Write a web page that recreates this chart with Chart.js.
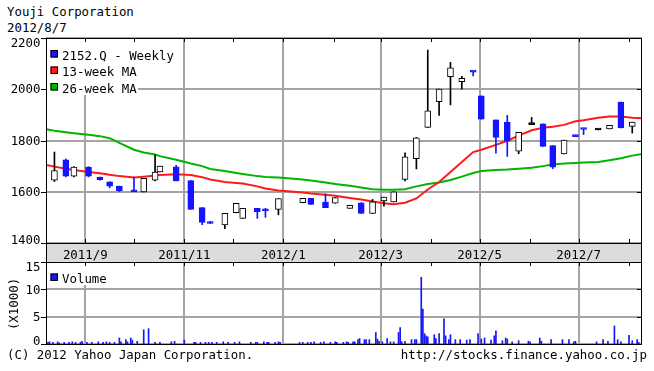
<!DOCTYPE html>
<html>
<head>
<meta charset="utf-8">
<script src="https://cdn.jsdelivr.net/npm/chart.js@4.4.0/dist/chart.umd.min.js"></script>
<style>
  body { margin: 0; background: #fff; width: 654px; height: 371px; overflow: hidden; position: relative;
         font-family: 'DejaVu Sans Mono', monospace; font-size: 12.4px; color: #000; }
  .txt { position: absolute; white-space: pre; line-height: 1; }
  #priceBox { position: absolute; left: 0; top: 0; width: 654px; height: 262px; }
  #volBox { position: absolute; left: 0; top: 262px; width: 654px; height: 109px; }
</style>
</head>
<body>
<div class="txt" style="left:7px;top:6px">Youji Corporation</div>
<div class="txt" style="left:7px;top:22px">2012/8/7</div>
<div id="priceBox"><canvas id="priceChart"></canvas></div>
<div id="volBox"><canvas id="volumeChart"></canvas></div>
<div class="txt" style="left:7px;top:349px">(C) 2012 Yahoo Japan Corporation.</div>
<div class="txt" style="right:7px;top:349px">http://stocks.finance.yahoo.co.jp</div>
<script>
// --- data (weekly candles, 2152.Q) ---
const candleDates = ['2011-08-13','2011-08-20','2011-08-25','2011-09-03','2011-09-10','2011-09-16','2011-09-22',
  '2011-10-01','2011-10-07','2011-10-14','2011-10-17','2011-10-27','2011-11-05','2011-11-12','2011-11-17',
  '2011-11-26','2011-12-03','2011-12-07','2011-12-16','2011-12-21','2011-12-29','2012-01-13','2012-01-18',
  '2012-01-27','2012-02-02','2012-02-11','2012-02-18','2012-02-25','2012-03-03','2012-03-09','2012-03-16',
  '2012-03-23','2012-03-30','2012-04-06','2012-04-13','2012-04-20','2012-04-27','2012-05-02','2012-05-11',
  '2012-05-18','2012-05-25','2012-06-02','2012-06-09','2012-06-15','2012-06-22','2012-06-29','2012-07-04',
  '2012-07-13','2012-07-20','2012-07-27','2012-08-03'];
const opens  = [1645,1725,1661,1696,1657,1639,1622,1606,1599,1645,1677,1697,1644,1538,1484,1471,1518,1496,1535,1528,
  1531,1557,1574,1560,1555,1535,1557,1515,1564,1560,1648,1729,1851,1952,2049,2030,2070,1974,1881,1872,1758,1862,
  1865,1780,1748,1817,1845,1841,1845,1950,1855];
const closes = [1683,1661,1696,1661,1647,1622,1603,1600,1652,1677,1700,1642,1531,1480,1476,1516,1555,1535,1522,1526,
  1573,1574,1551,1538,1577,1547,1515,1561,1579,1600,1736,1810,1916,2001,2084,2043,2067,1883,1812,1797,1832,1862,
  1777,1696,1802,1815,1843,1841,1859,1849,1872];
const highs  = [1755,1728,1698,1698,1657,1639,1622,1657,1652,1743,1700,1703,1644,1538,1484,1516,1555,1535,1535,1535,
  1573,1574,1574,1592,1577,1547,1557,1570,1579,1600,1752,1812,2153,2001,2105,2050,2070,1974,1881,1898,1832,1890,
  1865,1780,1802,1817,1845,1841,1859,1950,1872];
const lows   = [1640,1658,1658,1658,1645,1615,1601,1600,1599,1642,1677,1642,1531,1472,1476,1456,1518,1496,1496,1500,
  1510,1557,1551,1538,1555,1535,1515,1515,1544,1560,1642,1689,1851,1898,1939,2000,2052,1883,1751,1738,1748,1862,
  1777,1690,1748,1815,1823,1841,1845,1849,1829];

// moving averages
const maDates = ['2011-08-08'].concat(candleDates, ['2012-08-09']);
const ma13 = [1704,1698,1690,1685,1677,1672,1666,1661,1656,1659,1663,1665,1668,1665,1657,1648,1638,1634,1632,1621,
  1613,1605,1597,1593,1588,1584,1576,1570,1562,1555,1551,1557,1574,1609,1638,1677,1716,1755,1764,1783,1799,1819,
  1840,1850,1854,1861,1875,1879,1889,1894,1894,1889,1887];
const ma26 = [1844,1838,1832,1828,1822,1817,1809,1791,1764,1753,1745,1739,1725,1710,1700,1689,1681,1673,1669,1661,
  1658,1656,1648,1644,1636,1630,1623,1617,1610,1608,1608,1610,1621,1630,1636,1646,1659,1673,1681,1685,1687,1690,
  1694,1700,1706,1710,1712,1714,1716,1723,1731,1741,1747];

// daily volume (x1000), one row per week Mon..Fri
const volumeStart = '2011-08-08';
const volume = [
  [0,0.3,0.4,0,0.3],[0.4,0.2,0,0,0.3],[0.3,0,0.4,0,0.3],[0.3,0.5,0,0,0.3],[0.3,0,0,0,0.4],
  [0.3,0,0.4,0,0.3],[0.3,0,0,1.1,0.4],[0.8,0.4,0,1.1,0.7],[0.5,0,0,0,2.6],[2.8,0,0,0,0.3],
  [0.3,0,0,0,0],[0.4,0,0.5,0,0],[0,0.7,0,0,0],[0.3,0.3,0,0,0.3],[0.3,0,0.3,0,0.3],
  [0.3,0,0,0,0.4],[0.3,0,0,0,0.3],[0.4,0,0,0,0],[0.3,0,0,0.3,0.3],[0,0.4,0,0.3,0.3],
  [0,0.3,0,0.4,0.3],[0,0,0,0,0],[0,0,0.3,0,0.3],[0.3,0,0.3,0,0.4],[0,0.3,0,0.4,0],
  [0.3,0,0,0.4,0.3],[0,0.3,0,0.4,0.3],[0.4,0.4,0,0.8,1.0],[0.8,0.8,0,0.8,0],[2.1,0.9,0.5,0,0.4],
  [1.0,0,0.4,0,0.4],[2.1,3.0,0.4,0,0.5],[0,0.8,0,0.8,0.8],[12.2,6.4,1.9,1.5,1.3],[0,1.7,1.0,0,1.9],
  [4.6,1.5,0,0.8,1.7],[0.8,0,0,0.8,0],[0.7,0,0.8,0,0],[1.9,0,0.9,0,1.1],[0,0.7,0,1.5,2.4],
  [0,0.6,0,1.1,0.9],[0.4,0,0,0,0.6],[0,0,0,0.5,0.4],[0,0,0,1.1,0.5],[0,0,0,0.8,0],
  [0,0,0,0.8,0],[0.8,0,0,0.4,0.5],[0,0,0,0,0],[0,0,0,0.4,0],[0.8,0,0,0.5,0],
  [3.3,0,0.8,0,0.4],[0,0,1.6,0,0.6],[0.8,0.3]
];

// axes
const monthTicks = ['2011-09-01','2011-10-01','2011-11-01','2011-12-01','2012-01-01','2012-02-01',
  '2012-03-01','2012-04-01','2012-05-01','2012-06-01','2012-07-01','2012-08-01'];
const monthLabels = ['2011/9','','2011/11','','2012/1','','2012/3','','2012/5','','2012/7',''];
const priceTicks = [1400, 1600, 1800, 2000, 2200];
const volumeTicks = [0, 5, 10, 15];

const BLUE = '#1414ff';
const RED = '#ff1a1a';
const GREEN = '#00b400';
const GRID = '#a4a4a4';
const FONT = '12.4px "DejaVu Sans Mono", monospace';

const dayNum = s => { const [y, m, d] = s.split('-').map(Number); return Date.UTC(y, m - 1, d) / 864e5; };
const xMin = dayNum('2011-08-08') - 0.2;
const xMax = dayNum('2012-08-09');
const monthValues = monthTicks.map(dayNum);

const fills = opens.map((o, i) => closes[i] > o ? '#ffffff' : closes[i] < o ? BLUE : '#000000');
const strokes = opens.map((o, i) => closes[i] > o ? '#000000' : closes[i] < o ? BLUE : '#000000');

const volumePoints = [];
volume.forEach((week, w) => week.forEach((v, d) => {
  if (v > 0) volumePoints.push({ x: dayNum(volumeStart) + w * 7 + d, y: v });
}));

const clamp = (v, lo, hi) => Math.max(lo, Math.min(hi, v));

// gray grid at the labelled months and at the value ticks, drawn by hand so it sits on whole pixels
const drawGrid = (chart, yTicks) => {
  const { ctx, chartArea: a, scales: { x, y } } = chart;
  ctx.save();
  ctx.strokeStyle = GRID;
  ctx.lineWidth = 2;
  ctx.beginPath();
  monthValues.forEach((m, i) => {
    if (!monthLabels[i]) return;
    const px = Math.round(x.getPixelForValue(m));
    ctx.moveTo(px, a.top); ctx.lineTo(px, a.bottom);
  });
  yTicks.forEach(v => {
    const py = Math.round(y.getPixelForValue(v));
    ctx.moveTo(a.left, py); ctx.lineTo(a.right, py);
  });
  ctx.stroke();
  ctx.restore();
};

const drawTicksAndFrame = (chart, yTicks, monthTop, monthBottom) => {
  const { ctx, chartArea: a, scales: { x, y } } = chart;
  ctx.strokeStyle = '#000';
  ctx.lineWidth = 1;
  ctx.beginPath();
  monthValues.forEach(m => {
    const px = Math.round(x.getPixelForValue(m)) + 0.5;
    if (monthTop) { ctx.moveTo(px, a.top); ctx.lineTo(px, a.top + 4); }
    if (monthBottom) { ctx.moveTo(px, a.bottom - 4); ctx.lineTo(px, a.bottom); }
  });
  yTicks.forEach(v => {
    const py = Math.round(y.getPixelForValue(v)) + 0.5;
    ctx.moveTo(a.left - 5, py); ctx.lineTo(a.left, py);
    ctx.moveTo(a.right - 5, py); ctx.lineTo(a.right, py);
  });
  ctx.stroke();
  ctx.strokeRect(a.left + 0.5, a.top + 0.5, a.right - a.left - 1, a.bottom - a.top);

  ctx.fillStyle = '#000';
  ctx.font = FONT;
  ctx.textAlign = 'right';
  ctx.textBaseline = 'middle';
  yTicks.forEach(v => {
    const py = clamp(y.getPixelForValue(v) + 1, a.top + 6, a.bottom - 2.5);
    ctx.fillText(String(v), 40.5, py);
  });
};

const legendBox = (ctx, x0, y0, color) => {
  ctx.fillStyle = color;
  ctx.fillRect(x0, y0, 7.5, 7.5);
  ctx.strokeStyle = '#000';
  ctx.lineWidth = 1;
  ctx.strokeRect(x0 + 0.5, y0 + 0.5, 6.5, 6.5);
};

const priceFrame = {
  id: 'priceFrame',
  beforeDatasetsDraw(chart) { drawGrid(chart, priceTicks); },
  afterDraw(chart) {
    const { ctx, chartArea: a, scales: { x } } = chart;
    ctx.save();
    // date band under the price panel
    ctx.fillStyle = '#dcdcdc';
    ctx.fillRect(a.left, a.bottom, a.right - a.left, 19);
    ctx.strokeStyle = '#000';
    ctx.strokeRect(a.left + 0.5, a.bottom + 0.5, a.right - a.left - 1, 19);
    ctx.fillStyle = '#000';
    ctx.font = FONT;
    ctx.textAlign = 'center';
    ctx.textBaseline = 'alphabetic';
    monthValues.forEach((m, i) => {
      if (monthLabels[i]) ctx.fillText(monthLabels[i], x.getPixelForValue(m), a.bottom + 15.8);
    });

    // legend
    ctx.fillStyle = '#fff';
    ctx.fillRect(a.left + 1, a.top + 1, 91, 56);
    drawTicksAndFrame(chart, priceTicks, true, true);
    const names = ['2152.Q - Weekly', '13-week MA', '26-week MA'];
    const colors = [BLUE, RED, GREEN];
    names.forEach((n, i) => {
      legendBox(ctx, 50.5, a.top + 12 + i * 16.5, colors[i]);
      ctx.fillStyle = '#000';
      ctx.textAlign = 'left';
      ctx.textBaseline = 'alphabetic';
      ctx.fillText(n, 62, a.top + 21.5 + i * 16.5);
    });
    ctx.restore();
  }
};

const volumeFrame = {
  id: 'volumeFrame',
  beforeDatasetsDraw(chart) { drawGrid(chart, volumeTicks); },
  afterDraw(chart) {
    const { ctx, chartArea: a } = chart;
    ctx.save();
    ctx.fillStyle = '#fff';
    ctx.fillRect(a.left + 1, a.top + 1, 62, 22);
    drawTicksAndFrame(chart, volumeTicks, true, false);
    legendBox(ctx, 50.5, a.top + 11.5, BLUE);
    ctx.fillStyle = '#000';
    ctx.textAlign = 'left';
    ctx.textBaseline = 'alphabetic';
    ctx.fillText('Volume', 62, a.top + 21);
    ctx.translate(15, a.top + 42);
    ctx.rotate(-Math.PI / 2);
    ctx.textAlign = 'center';
    ctx.textBaseline = 'middle';
    ctx.fillText('(X1000)', 0, 0);
    ctx.restore();
  }
};

const xScale = extra => Object.assign({
  type: 'linear', min: xMin, max: xMax, offset: false,
  afterBuildTicks: s => { s.ticks = monthValues.map(v => ({ value: v })); },
  ticks: { display: false },
  grid: { display: false },
  border: { display: false }
}, extra);

const yScale = (min, max, ticks) => ({
  min, max,
  afterFit: s => { s.width = 46; },
  afterBuildTicks: s => { s.ticks = ticks.map(v => ({ value: v })); },
  ticks: { display: false },
  grid: { display: false },
  border: { display: false }
});

new Chart(document.getElementById('priceChart'), {
  type: 'bar',
  data: {
    datasets: [
      {
        type: 'line', label: '13-week MA', order: 5,
        data: maDates.map((d, i) => ({ x: dayNum(d), y: ma13[i] })),
        borderColor: RED, borderWidth: 2, pointRadius: 0, tension: 0
      },
      {
        type: 'line', label: '26-week MA', order: 6,
        data: maDates.map((d, i) => ({ x: dayNum(d), y: ma26[i] })),
        borderColor: GREEN, borderWidth: 2, pointRadius: 0, tension: 0
      },
      {
        label: 'wick', order: 3, grouped: false,
        data: candleDates.map((d, i) => ({ x: dayNum(d), y: [lows[i], highs[i]] })),
        backgroundColor: strokes, borderWidth: 0, barThickness: 1, minBarLength: 1
      },
      {
        label: '2152.Q - Weekly', order: 2, grouped: false,
        data: candleDates.map((d, i) => ({ x: dayNum(d), y: [opens[i], closes[i]] })),
        backgroundColor: fills, borderColor: strokes, borderWidth: 1, borderSkipped: false,
        barThickness: 6, minBarLength: 2
      }
    ]
  },
  options: {
    responsive: true,
    maintainAspectRatio: false,
    animation: false,
    layout: { padding: { left: 0, right: 12, top: 38, bottom: 0 } },
    plugins: { legend: { display: false }, tooltip: { enabled: false } },
    scales: {
      x: xScale({ afterFit: s => { s.height = 19; } }),
      y: yScale(1400, 2200, priceTicks)
    }
  },
  plugins: [priceFrame]
});

new Chart(document.getElementById('volumeChart'), {
  type: 'bar',
  data: {
    datasets: [{
      label: 'Volume', grouped: false,
      data: volumePoints,
      backgroundColor: BLUE, borderWidth: 0, barThickness: 1
    }]
  },
  options: {
    responsive: true,
    maintainAspectRatio: false,
    animation: false,
    layout: { padding: { left: 0, right: 12, top: 0, bottom: 27 } },
    plugins: { legend: { display: false }, tooltip: { enabled: false } },
    scales: {
      x: xScale({ afterFit: s => { s.height = 0; } }),
      y: yScale(0, 15, volumeTicks)
    }
  },
  plugins: [volumeFrame]
});
</script>
</body>
</html>
